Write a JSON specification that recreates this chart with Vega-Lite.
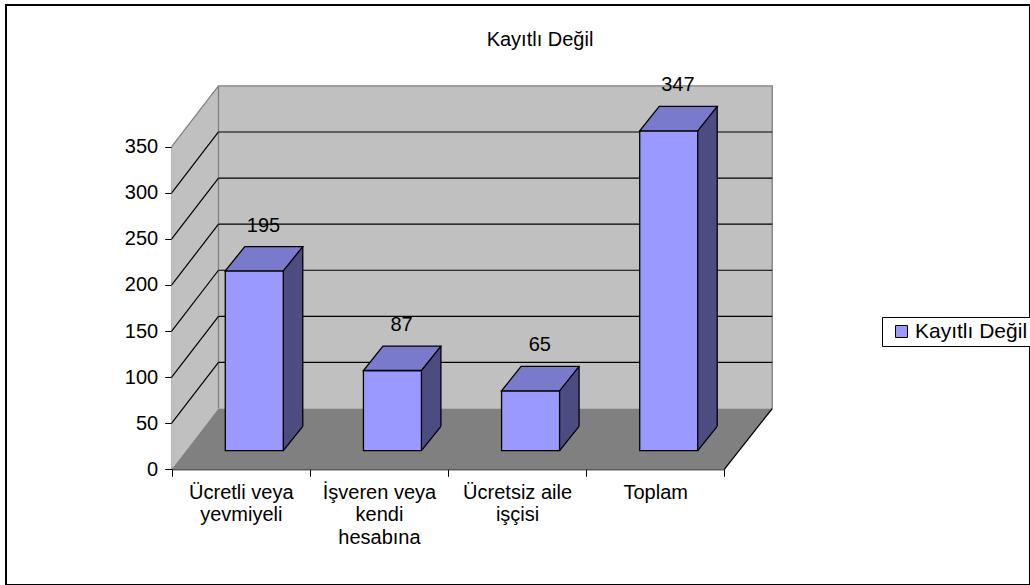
{
  "$schema": "https://vega.github.io/schema/vega-lite/v6.json",
  "width": 1024,
  "height": 580,
  "autosize": {"type": "none"},
  "padding": {"left": 6, "top": 5, "right": 0, "bottom": 0},
  "background": "white",
  "config": {
    "view": {"stroke": "black", "strokeWidth": 2},
    "font": "Liberation Sans",
    "axis": {"labelFont": "Liberation Sans", "labelColor": "black", "domainColor": "black", "tickColor": "black", "grid": false}
  },
  "title": {"text": "Kayıtlı Değil", "font": "Liberation Sans", "fontSize": 20, "fontWeight": "normal", "color": "black", "anchor": "middle", "frame": "group", "offset": -55, "baseline": "middle", "dx": 22},
  "datasets": {
    "veri": [
      {"kategori": "Ücretli veya yevmiyeli", "deger": 195},
      {"kategori": "İşveren veya kendi hesabına", "deger": 87},
      {"kategori": "Ücretsiz aile işçisi", "deger": 65},
      {"kategori": "Toplam", "deger": 347}
    ],
    "seviyeler": [{"seviye": 50}, {"seviye": 100}, {"seviye": 150}, {"seviye": 200}, {"seviye": 250}, {"seviye": 300}],
    "cerceve": [{"parca": "duvar"}]
  },
  "layer": [
    {
      "data": {"name": "cerceve"},
      "mark": {"type": "point", "shape": "M-69.1,0 L-22.3,-60.8 L-22.3,-383.4 L-69.1,-322.6 Z M-22.3,-60.8 L531.5,-60.8 L531.5,-383.4 L-22.3,-383.4 Z", "size": 4, "filled": true, "fill": "#c0c0c0", "strokeWidth": 0, "opacity": 1},
      "encoding": {"x": {"datum": "Ücretli veya yevmiyeli", "type": "nominal"}, "y": {"datum": 0, "type": "quantitative"}}
    },
    {
      "data": {"name": "cerceve"},
      "mark": {"type": "point", "shape": "M-69.1,0 L483.5,0 L531.5,-60.8 L-22.3,-60.8 Z", "size": 4, "filled": true, "fill": "#808080", "strokeWidth": 0, "opacity": 1},
      "encoding": {"x": {"datum": "Ücretli veya yevmiyeli", "type": "nominal"}, "y": {"datum": 0, "type": "quantitative"}}
    },
    {
      "data": {"name": "cerceve"},
      "mark": {"type": "point", "shape": "M-69.1,-322.6 L-22.3,-383.4 L531.5,-383.4 L531.5,-60.8 M-22.3,-60.8 L-22.3,-383.4", "size": 4, "filled": false, "stroke": "#808080", "strokeWidth": 1.3, "opacity": 1},
      "encoding": {"x": {"datum": "Ücretli veya yevmiyeli", "type": "nominal"}, "y": {"datum": 0, "type": "quantitative"}}
    },
    {
      "data": {"name": "cerceve"},
      "mark": {"type": "point", "shape": "M483.5,0 L531.5,-60.8", "size": 4, "filled": false, "stroke": "black", "strokeWidth": 1.3, "opacity": 1},
      "encoding": {"x": {"datum": "Ücretli veya yevmiyeli", "type": "nominal"}, "y": {"datum": 0, "type": "quantitative"}}
    },
    {
      "data": {"name": "seviyeler"},
      "mark": {"type": "rule", "color": "black", "strokeWidth": 1.2, "xOffset": -22.3, "x2Offset": 117.05, "yOffset": -60.8},
      "encoding": {
        "x": {"datum": "Ücretli veya yevmiyeli", "type": "nominal"},
        "x2": {"datum": "Toplam"},
        "y": {"field": "seviye", "type": "quantitative", "title": null}
      }
    },
    {
      "data": {"name": "seviyeler"},
      "mark": {"type": "rule", "color": "black", "strokeWidth": 1.2, "xOffset": -69.075, "x2Offset": -22.3, "y2Offset": -60.8},
      "encoding": {
        "x": {"datum": "Ücretli veya yevmiyeli", "type": "nominal"},
        "x2": {"datum": "Ücretli veya yevmiyeli"},
        "y": {"field": "seviye", "type": "quantitative", "title": null},
        "y2": {"field": "seviye"}
      }
    },
    {
      "data": {"name": "veri"},
      "mark": {"type": "bar", "width": 19.5, "xOffset": 52.25, "yOffset": -43, "y2Offset": -43, "fill": "#4c4c80", "strokeWidth": 0},
      "encoding": {
        "x": {"field": "kategori", "type": "nominal", "sort": null, "title": null},
        "y": {"field": "deger", "type": "quantitative", "title": null},
        "y2": {"datum": 0}
      }
    },
    {
      "data": {"name": "veri"},
      "mark": {"type": "point", "shape": "M0,0 L0,-25.4 L19.5,-25.4 L19.5,-24.4 Z", "size": 4, "filled": true, "fill": "#4c4c80", "strokeWidth": 0, "opacity": 1, "xOffset": 42.5, "yOffset": -18.6},
      "encoding": {
        "x": {"field": "kategori", "type": "nominal", "sort": null, "title": null},
        "y": {"datum": 0, "type": "quantitative"}
      }
    },
    {
      "data": {"name": "veri"},
      "mark": {"type": "bar", "width": 58, "xOffset": 13.5, "yOffset": -18.6, "y2Offset": -18.6, "stroke": "black", "strokeWidth": 1.3, "opacity": 1},
      "encoding": {
        "x": {
          "field": "kategori", "type": "nominal", "sort": null, "title": null,
          "scale": {"domain": ["Ücretli veya yevmiyeli", "İşveren veya kendi hesabına", "Ücretsiz aile işçisi", "Toplam"], "range": [165.7, 718.3], "paddingInner": 0, "paddingOuter": 0},
          "axis": {
            "title": null, "offset": -115.7, "tickBand": "extent", "tickSize": 7, "labelPadding": 16, "labelAngle": 0, "labelAlign": "center",
            "labelFontSize": 20, "labelLineHeight": 22.5, "labelOverlap": false, "labelLimit": 300,
            "labelExpr": "datum.value == 'Ücretli veya yevmiyeli' ? ['Ücretli veya', 'yevmiyeli'] : datum.value == 'İşveren veya kendi hesabına' ? ['İşveren veya', 'kendi', 'hesabına'] : datum.value == 'Ücretsiz aile işçisi' ? ['Ücretsiz aile', 'işçisi'] : datum.value"
          }
        },
        "y": {
          "field": "deger", "type": "quantitative", "title": null,
          "scale": {"domain": [0, 350], "range": [464.3, 141.7], "nice": false, "zero": true},
          "axis": {"title": null, "values": [0, 50, 100, 150, 200, 250, 300, 350], "offset": -165.7, "tickSize": 7, "labelPadding": 7, "labelFontSize": 20}
        },
        "y2": {"datum": 0},
        "color": {
          "datum": "Kayıtlı Değil", "type": "nominal",
          "scale": {"range": ["#9999ff"]},
          "legend": {
            "title": null, "orient": "none", "legendX": 876, "legendY": 312,
            "symbolType": "square", "symbolSize": 144, "symbolStrokeColor": "black", "symbolStrokeWidth": 1, "symbolOffset": 5, "symbolOpacity": 1,
            "labelFont": "Liberation Sans", "labelFontSize": 21, "labelColor": "black", "labelOffset": 3, "labelLimit": 300,
            "padding": 4, "strokeColor": "black", "fillColor": "white", "cornerRadius": 0
          }
        }
      }
    },
    {
      "data": {"name": "veri"},
      "mark": {"type": "point", "shape": "M-29,0 L29,0 L48.5,-24.4 L-9.5,-24.4 Z", "size": 4, "filled": true, "fill": "#7a7acc", "stroke": "black", "strokeWidth": 1.3, "opacity": 1, "xOffset": 13.5, "yOffset": -18.6},
      "encoding": {
        "x": {"field": "kategori", "type": "nominal", "sort": null, "title": null},
        "y": {"field": "deger", "type": "quantitative", "title": null}
      }
    },
    {
      "data": {"name": "veri"},
      "mark": {"type": "rule", "color": "black", "strokeWidth": 1.3, "xOffset": 62, "yOffset": -43, "y2Offset": -43},
      "encoding": {
        "x": {"field": "kategori", "type": "nominal", "sort": null, "title": null},
        "y": {"field": "deger", "type": "quantitative", "title": null},
        "y2": {"datum": 0}
      }
    },
    {
      "data": {"name": "veri"},
      "mark": {"type": "point", "shape": "M0,0 L19.5,-24.4", "size": 4, "filled": false, "stroke": "black", "strokeWidth": 1.3, "opacity": 1, "xOffset": 42.5, "yOffset": -18.6},
      "encoding": {
        "x": {"field": "kategori", "type": "nominal", "sort": null, "title": null},
        "y": {"datum": 0, "type": "quantitative"}
      }
    },
    {
      "data": {"name": "veri"},
      "mark": {"type": "text", "font": "Liberation Sans", "fontSize": 20, "color": "black", "align": "center", "baseline": "middle", "xOffset": 22.7, "yOffset": -64},
      "encoding": {
        "x": {"field": "kategori", "type": "nominal", "sort": null, "title": null},
        "y": {"field": "deger", "type": "quantitative", "title": null},
        "text": {"field": "deger", "type": "quantitative"}
      }
    }
  ]
}
